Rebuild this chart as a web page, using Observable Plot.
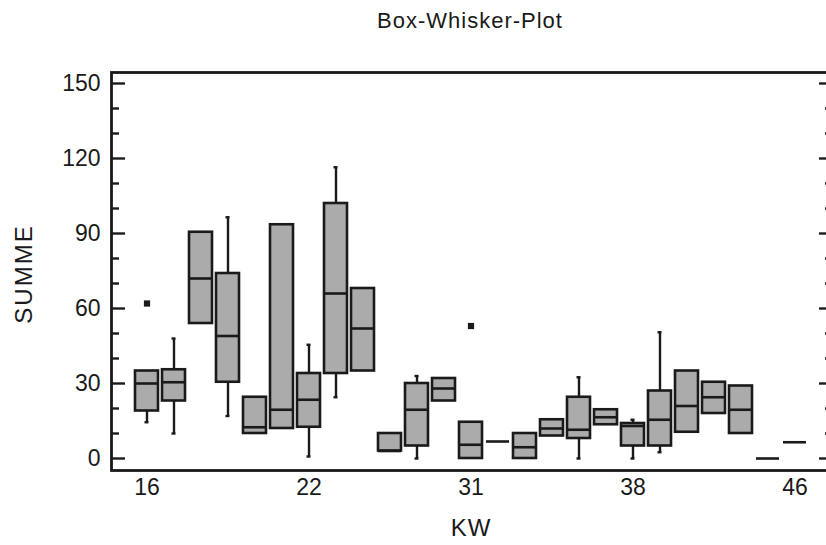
<!DOCTYPE html>
<html><head><meta charset="utf-8">
<script src="https://cdn.jsdelivr.net/npm/d3@7"></script>
<script src="https://cdn.jsdelivr.net/npm/@observablehq/plot@0.6"></script>
<style>
body{margin:0;background:#fff;overflow:hidden;font-family:"Liberation Sans",Arial,sans-serif;color:#1a1a1a;}
#wrap{position:relative;width:826px;height:545px;}
#title{position:absolute;left:470px;top:21px;transform:translate(-50%,-50%);font-size:22px;letter-spacing:1px;white-space:nowrap;}
#ylab{position:absolute;left:24px;top:274px;transform:translate(-50%,-50%) rotate(-90deg);font-size:24px;letter-spacing:2px;white-space:nowrap;}
#xlab{position:absolute;left:471px;top:528px;transform:translate(-50%,-50%);font-size:24px;letter-spacing:1px;white-space:nowrap;}
#chart{position:absolute;left:0;top:40px;}
</style></head>
<body><div id="wrap"><div id="title">Box-Whisker-Plot</div><div id="chart"></div><div id="ylab">SUMME</div><div id="xlab">KW</div></div>
<script>
// Calendar weeks (only 16, 22, 31, 38, 46 are labeled in the source)
const weeks = ["16","17","18","19","20","21","22","23","24","26","28","30","31","32","33","34","36","37","38","39","40","41","42","44","46"];
const q1  = [19, 23, 54, 30.5, 10, 12, 12.5, 34, 35,  3,  5,  23,  0, 6.8,  0,  9,  8, 13.5,  5,  5, 10.5, 18, 10, 0, 6.5];
const med = [30, 30.5, 72, 49, 12.5, 19.5, 23.5, 66, 52, 3, 19.5, 28, 5.5, 6.8, 4.5, 12, 11.5, 16.5, 13, 15.5, 21, 24.5, 19.5, 0, 6.5];
const q3  = [35, 35.5, 90.5, 74, 24.5, 93.5, 34, 102, 68, 10, 30, 32, 14.5, 6.8, 10, 15.5, 24.5, 19.5, 14, 27, 35, 30.5, 29, 0, 6.5];
const lo  = [14.5, 10, 54, 17, 10, 12, 0.8, 24.5, 35, 3, 0, 23, 0, 6.8, 0, 9, 0, 13.5, 0, 2.5, 10.5, 18, 10, 0, 6.5];
const hi  = [35, 48, 90.5, 96.5, 24.5, 93.5, 45.5, 116.5, 68, 10, 33, 32, 14.5, 6.8, 10, 15.5, 32.5, 19.5, 15.5, 50.5, 35, 30.5, 29, 0, 6.5];
const outlierWeeks  = ["16", "31"];
const outlierValues = [62, 53];
const xTicks = ["16","22","31","38","46"];
const yMajor = [0, 30, 60, 90, 120, 150];
const yMinor = [10, 20, 40, 50, 70, 80, 100, 110, 130, 140];

const boxes = weeks.map((w, i) => ({week: w, q1: q1[i], med: med[i], q3: q3[i], lo: lo[i], hi: hi[i]}));
const outl = outlierWeeks.map((w, i) => ({week: w, value: outlierValues[i]}));
const ink = "#1a1a1a";

const chart = Plot.plot({
  width: 826, height: 505,
  marginLeft: 111, marginRight: -6, marginTop: 32, marginBottom: 75,
  style: {fontFamily: "'Liberation Sans', Arial, sans-serif", fontSize: "23px", color: ink, background: "transparent"},
  x: {type: "band", domain: weeks, range: [132.5, 809.5], paddingInner: 0.13, paddingOuter: 0.065},
  y: {domain: [-4.8, 154.4]},
  marks: [
    Plot.ruleX(boxes.filter(d => d.hi > d.q3), {x: "week", y1: "q3", y2: "hi", stroke: ink, strokeWidth: 2.4}),
    Plot.ruleX(boxes.filter(d => d.lo < d.q1), {x: "week", y1: "lo", y2: "q1", stroke: ink, strokeWidth: 2.4}),
    Plot.tickY(boxes.filter(d => d.hi > d.q3), {x: "week", y: "hi", stroke: ink, strokeWidth: 2.4, insetLeft: 9.5, insetRight: 9.5}),
    Plot.tickY(boxes.filter(d => d.lo < d.q1), {x: "week", y: "lo", stroke: ink, strokeWidth: 2.4, insetLeft: 9.5, insetRight: 9.5}),
    Plot.barY(boxes.filter(d => d.q3 > d.q1), {x: "week", y1: "q1", y2: "q3", fill: "#ababab", stroke: ink, strokeWidth: 2.6}),
    Plot.tickY(boxes, {x: "week", y: "med", stroke: ink, strokeWidth: 2.6}),
    Plot.dot(outl, {x: "week", y: "value", symbol: "square", r: 3.5, fill: ink, stroke: null}),
    Plot.axisY({anchor: "left", ticks: yMajor, tickSize: 0, tickPadding: 11, label: null, fill: ink}),
    Plot.axisY({anchor: "left", ticks: yMajor, tickSize: -14, fill: "none", label: null, stroke: ink, strokeWidth: 2.4}),
    Plot.axisY({anchor: "left", ticks: yMinor, tickSize: -8, fill: "none", label: null, stroke: ink, strokeWidth: 2.4}),
    Plot.axisY({anchor: "right", ticks: yMajor, tickSize: -14, fill: "none", label: null, stroke: ink, strokeWidth: 2.4}),
    Plot.axisY({anchor: "right", ticks: yMinor, tickSize: -8, fill: "none", label: null, stroke: ink, strokeWidth: 2.4}),
    Plot.axisX({ticks: xTicks, tickSize: 0, tickPadding: 8, label: null, fill: ink}),
    Plot.frame({stroke: ink, strokeWidth: 2.8})
  ]
});
document.getElementById("chart").appendChild(chart);
</script>
</body></html>
